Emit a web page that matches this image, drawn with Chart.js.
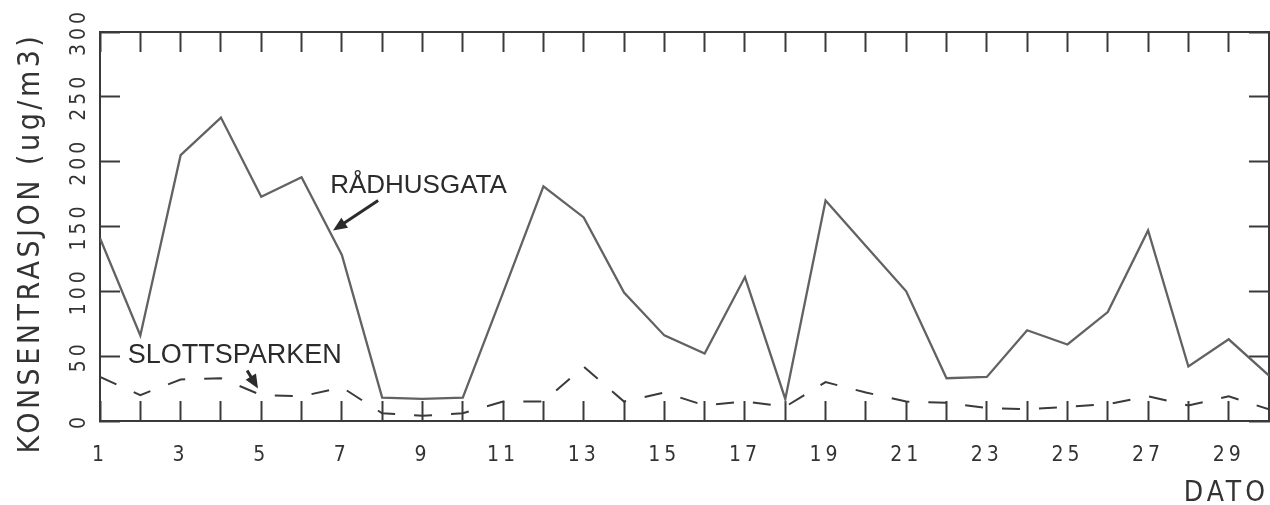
<!DOCTYPE html>
<html>
<head>
<meta charset="utf-8">
<script src="https://cdn.jsdelivr.net/npm/chart.js@4/dist/chart.umd.min.js"></script>
<style>
  html, body { margin: 0; padding: 0; background: #fff; }
  #wrap { width: 1270px; height: 505px; }
</style>
</head>
<body>
<div id="wrap"><canvas id="myChart" width="1270" height="505"></canvas></div>
<script>
// values (ug/m3 per day)
const days = [1, 2, 3, 4, 5, 6, 7, 8, 9, 10, 11, 12, 13, 14, 15, 16, 17, 18, 19, 20, 21, 22, 23, 24, 25, 26, 27, 28, 29, 30];
const radhusgata = [141, 66, 205, 234, 173, 188, 128, 18, 17, 18, 99, 181, 157, 99, 66, 52, 111, 17, 170, 135, 100, 33, 34, 70, 59, 84, 147, 42, 63, 35];
const slottsparken = [34, 20, 32, 33, 20, 19, 26, 6, 4, 6, 15, 15, 42, 15, 22, 12, 15, 11, 30, 22, 15, 14, 10, 9, 11, 13, 19, 12, 19, 9];
const yMin = 0, yMax = 300, yStep = 50;

const ink = '#333';
const narrow = '"Liberation Sans Narrow", "DejaVu Sans Condensed", "Roboto Condensed", "Liberation Sans", sans-serif';
const tickFont = { family: narrow, size: 21, weight: 'normal' };
const titleFont = { family: narrow, size: 28, weight: 'normal', lineHeight: 1 };

// spaced-out lettering like the original plotter font
const spacing = {
  id: 'spacing',
  beforeDraw(chart) { chart.ctx.letterSpacing = '4px'; },
  afterDraw(chart) { chart.ctx.letterSpacing = '0px'; }
};

function arrow(ctx, x1, y1, x2, y2) {
  const a = Math.atan2(y2 - y1, x2 - x1);
  const len = 14, w = 6;
  ctx.beginPath();
  ctx.moveTo(x1, y1);
  ctx.lineTo(x2 - Math.cos(a) * len * 0.8, y2 - Math.sin(a) * len * 0.8);
  ctx.stroke();
  ctx.beginPath();
  ctx.moveTo(x2, y2);
  ctx.lineTo(x2 - Math.cos(a) * len - Math.sin(a) * w, y2 - Math.sin(a) * len + Math.cos(a) * w);
  ctx.lineTo(x2 - Math.cos(a) * len + Math.sin(a) * w, y2 - Math.sin(a) * len - Math.cos(a) * w);
  ctx.closePath();
  ctx.fill();
}

const notes = {
  id: 'notes',
  afterDraw(chart) {
    const { ctx } = chart;
    const x = chart.scales.x, y = chart.scales.y;
    ctx.save();
    ctx.fillStyle = '#2b2b2b';
    ctx.strokeStyle = '#2b2b2b';
    ctx.lineWidth = 3;
    ctx.letterSpacing = '0px';
    ctx.textAlign = 'left';
    ctx.textBaseline = 'alphabetic';
    ctx.font = '26px "Liberation Sans", Arial, sans-serif';
    ctx.fillText('RÅDHUSGATA', x.getPixelForValue(6.71), y.getPixelForValue(176));
    arrow(ctx, x.getPixelForValue(7.9), y.getPixelForValue(170), x.getPixelForValue(6.78), y.getPixelForValue(147));
    ctx.font = '27px "Liberation Sans", Arial, sans-serif';
    ctx.fillText('SLOTTSPARKEN', x.getPixelForValue(1.69), y.getPixelForValue(45));
    arrow(ctx, x.getPixelForValue(4.65), y.getPixelForValue(39), x.getPixelForValue(4.92), y.getPixelForValue(25));

    // y axis title, rotated
    ctx.fillStyle = ink;
    ctx.letterSpacing = '3.5px';
    ctx.font = '30px ' + narrow;
    ctx.translate(31, 243);
    ctx.rotate(-Math.PI / 2);
    ctx.textAlign = 'center';
    ctx.textBaseline = 'middle';
    ctx.fillText('KONSENTRASJON (ug/m3)', 0, 0);
    ctx.restore();
  }
};

// fixed box sizes so the plot frame lands where the original has it
function fixBox(w, h) {
  return s => {
    if (w !== null) s.width = w;
    if (h !== null) s.height = h;
    s.paddingLeft = s.paddingRight = s.paddingTop = s.paddingBottom = 0;
  };
}

const frameGrid = { drawOnChartArea: false, tickLength: -20, tickColor: '#3a3a3a', tickWidth: 2 };
const frameBorder = { color: '#3a3a3a', width: 2 };

new Chart(document.getElementById('myChart'), {
  type: 'line',
  data: {
    datasets: [
      {
        label: 'RÅDHUSGATA',
        data: days.map((d, i) => ({ x: d, y: radhusgata[i] })),
        borderColor: '#626262',
        borderWidth: 2.3,
        pointRadius: 0,
        tension: 0,
        xAxisID: 'x', yAxisID: 'y'
      },
      {
        label: 'SLOTTSPARKEN',
        data: days.map((d, i) => ({ x: d, y: slottsparken[i] })),
        borderColor: '#3a3a3a',
        borderWidth: 2,
        borderDash: [18, 19],
        pointRadius: 0,
        tension: 0,
        xAxisID: 'x', yAxisID: 'y'
      }
    ]
  },
  options: {
    responsive: false,
    animation: false,
    devicePixelRatio: 1,
    layout: { padding: 0 },
    plugins: { legend: { display: false }, tooltip: { enabled: false } },
    scales: {
      x: {
        type: 'linear', position: 'bottom', min: days[0], max: days[days.length - 1],
        afterFit: fixBox(null, 84),
        border: frameBorder,
        grid: frameGrid,
        ticks: {
          stepSize: 1, autoSkip: false, maxRotation: 0, padding: 42, color: ink, font: tickFont,
          callback: v => (v % 2 ? String(v) : '')
        },
        title: { display: true, text: 'DATO', align: 'end', color: ink, font: titleFont, padding: { top: 0, bottom: -3 } }
      },
      xTop: {
        type: 'linear', position: 'top', min: days[0], max: days[days.length - 1],
        afterFit: fixBox(null, 32),
        border: frameBorder,
        grid: frameGrid,
        ticks: { stepSize: 1, autoSkip: false, display: false }
      },
      y: {
        type: 'linear', position: 'left', min: yMin, max: yMax,
        afterFit: fixBox(100, null),
        border: frameBorder,
        grid: frameGrid,
        ticks: { stepSize: yStep, minRotation: 90, maxRotation: 90, crossAlign: 'center', padding: 22, color: ink, font: tickFont }
      },
      yRight: {
        type: 'linear', position: 'right', min: yMin, max: yMax,
        afterFit: fixBox(1, null),
        border: frameBorder,
        grid: frameGrid,
        ticks: { stepSize: yStep, display: false }
      }
    }
  },
  plugins: [spacing, notes]
});
</script>
</body>
</html>
